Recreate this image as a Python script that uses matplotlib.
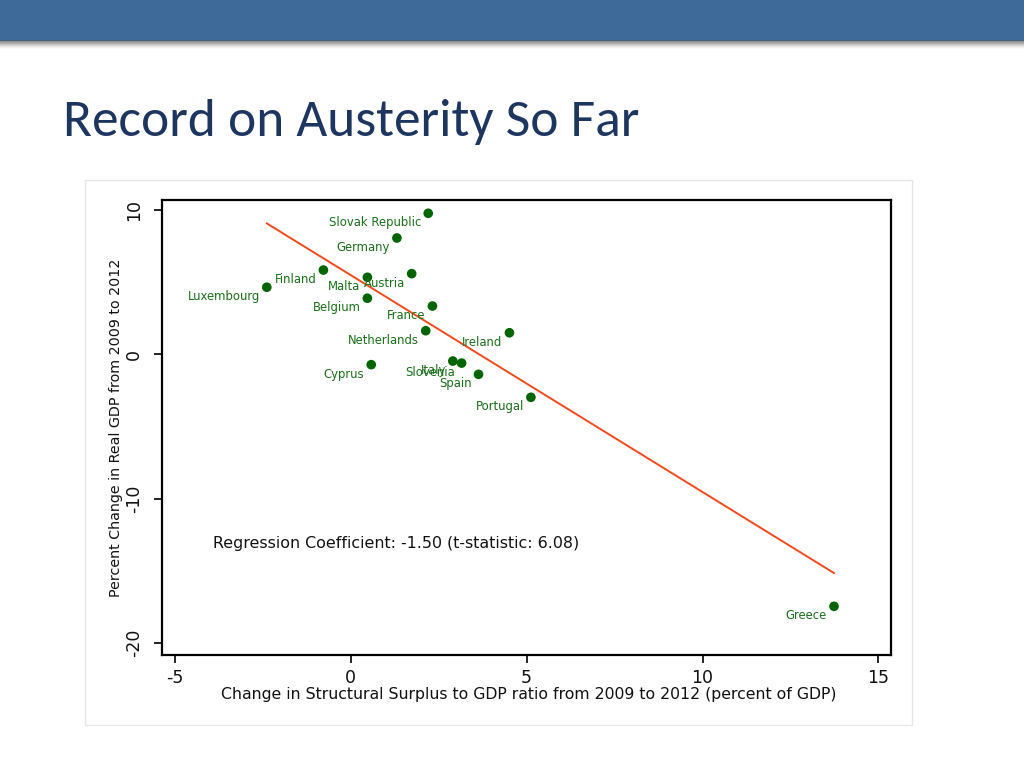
import numpy as np
import matplotlib
matplotlib.use("Agg")
import matplotlib.pyplot as plt
from matplotlib.patches import Rectangle
from matplotlib import font_manager as fm

# ---------------- data ----------------
countries = ["Slovak Republic", "Germany", "Finland", "Malta", "Austria", "Luxembourg",
             "Belgium", "France", "Netherlands", "Ireland", "Italy", "Slovenia",
             "Cyprus", "Spain", "Portugal", "Greece"]
surplus_change = [2.20, 1.31, -0.78, 0.47, 1.73, -2.39,
                  0.47, 2.32, 2.13, 4.51, 2.90, 3.15,
                  0.58, 3.63, 5.12, 13.74]
gdp_change = [9.77, 8.06, 5.84, 5.34, 5.59, 4.65,
              3.89, 3.35, 1.64, 1.50, -0.46, -0.60,
              -0.71, -1.38, -2.97, -17.44]
x_ticks = [-5, 0, 5, 10, 15]
y_ticks = [-20, -10, 0, 10]

title = "Record on Austerity So Far"
xlabel = "Change in Structural Surplus to GDP ratio from 2009 to 2012 (percent of GDP)"
ylabel = "Percent Change in Real GDP from 2009 to 2012"
note = "Regression Coefficient: -1.50 (t-statistic: 6.08)"

W, H = 1024, 768
fig = plt.figure(figsize=(W / 100, H / 100), dpi=100)
fig.patch.set_facecolor("white")

def fx(px):
    return px / W

def fy(py):
    return 1 - py / H

# header bar + shadow
fig.patches.append(Rectangle((0, fy(40.5)), 1, 40.5 / H, transform=fig.transFigure,
                             facecolor="#3d6a98", edgecolor="none", zorder=0))
for i in range(8):
    a = 0.45 * (1 - i / 8) ** 1.5
    fig.patches.append(Rectangle((0, fy(41.5 + i)), 1, 1 / H, transform=fig.transFigure,
                                 facecolor="#555555", alpha=a, edgecolor="none", zorder=0))

# light frame around embedded chart
fig.patches.append(Rectangle((fx(85), fy(725)), (912 - 85) / W, (725 - 180) / H,
                             transform=fig.transFigure, fill=False,
                             edgecolor="#e6e6e6", lw=1.0, zorder=0))

# title (fit width to reference)
names = {f.name for f in fm.fontManager.ttflist}
title_font = "Lato"
for cand in ["Carlito", "Liberation Sans Narrow", "Open Sans Condensed", "Lato"]:
    if cand in names:
        title_font = cand
        break
t = fig.text(fx(63), fy(136), title, fontsize=40, family=title_font,
             color="#1d3660", va="baseline", ha="left")
fig.canvas.draw()
w = t.get_window_extent().width
t.set_fontsize(40 * 575 / w)

# ---------------- chart ----------------
ax = fig.add_axes([fx(162), fy(655), (891 - 162) / W, (655 - 200) / H])
ax.set_xlim(-5.37, 15.36)
ax.set_ylim(-20.81, 10.69)

x = np.array(surplus_change)
y = np.array(gdp_change)
b, a0 = np.polyfit(x, y, 1)
xs = np.array([x.min(), x.max()])
ax.plot(xs, a0 + b * xs, color="#f24a1c", lw=1.4, zorder=2)

ax.scatter(x, y, s=48, color="#006400", edgecolors="none", zorder=3)
for name, xi, yi in zip(countries, x, y):
    ax.annotate(name, (xi, yi), xytext=(-5, -6.8), textcoords="offset points",
                ha="right", va="center", fontsize=8.4, color="#1a701a", zorder=4)

ax.text(-3.92, -13.06, note, ha="left", va="center", fontsize=11.4, color="#111111")

for s in ax.spines.values():
    s.set_linewidth(1.6)
    s.set_color("black")

ax.set_xticks(x_ticks)
ax.set_yticks(y_ticks)
ax.set_xticklabels([str(v) for v in x_ticks])
ax.set_yticklabels([str(v) for v in y_ticks])
ax.tick_params(axis="both", direction="out", length=5.8, width=1.2, labelsize=12.5,
               color="black", labelcolor="#111111")
ax.tick_params(axis="x", pad=4.2)
ax.tick_params(axis="y", pad=8)
plt.setp(ax.get_yticklabels(), rotation=90, va="center", ha="right")

ax.set_xlabel(xlabel, fontsize=11.3, color="#111111")
ax.set_ylabel(ylabel, fontsize=10.3, color="#111111")
ax.xaxis.set_label_coords((528.5 - 162) / 729, (655 - 695) / 455)
ax.xaxis.label.set_va("center")
ax.yaxis.set_label_coords((116 - 162) / 729, 0.5)
ax.yaxis.label.set_va("center")
ax.yaxis.label.set_ha("center")

fig.savefig("out.png", dpi=100, facecolor="white")
